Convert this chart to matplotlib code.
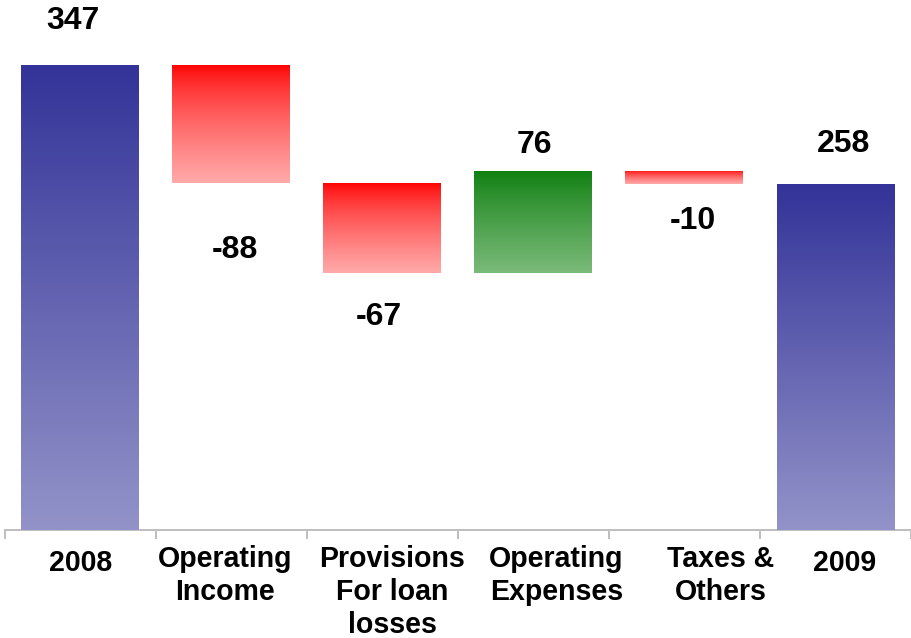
import numpy as np
import matplotlib
matplotlib.use("Agg")
import matplotlib.pyplot as plt
from matplotlib.colors import to_rgb

# ---- data -------------------------------------------------------------
categories = ["2008", "Operating\nIncome", "Provisions\nFor loan\nlosses",
              "Operating\nExpenses", "Taxes &\nOthers", "2009"]
values = [347, -88, -67, 76, -10, 258]
kinds = ["total", "delta", "delta", "delta", "delta", "total"]

# ---- styling ----------------------------------------------------------
grad_total = ("#333399", "#9393c9", 1.0)
grad_down = ("#ff0000", "#ffaaaa", 0.7)
grad_up = ("#0f7f0f", "#7aba7a", 0.85)
axis_grey = "#bfbfbf"
font = "Liberation Sans"

# label nudges in points (figure is rendered at 72 dpi, so points == px)
value_dx = [-7.5, 4, -3, 1.5, 8.5, 8.5]
value_dy = [36, -75, -52, 18, -45, 32]
cat_dx = [1, -6, 10, 23, 36, 9]
cat_dy = [-19, -15, -15, -15, -15, -19]

W, H, DPI = 911, 638, 72
fig = plt.figure(figsize=(W / DPI, H / DPI), dpi=DPI)
ax = fig.add_axes([4.5 / W, 108 / H, 906.5 / W, 530 / H])

x = np.arange(len(categories))
bottoms, heights = [], []
running = 0
for v, k in zip(values, kinds):
    if k == "total":
        bottoms.append(0)
        heights.append(v)
        running = v
    else:
        bottoms.append(running + min(v, 0))
        heights.append(abs(v))
        running += v

bars = ax.bar(x, heights, bottom=bottoms, width=0.78, color="none",
              edgecolor="none", zorder=3)


def gradient(c_top, c_bot, gamma, n=256):
    t = np.linspace(0, 1, n)[:, None, None] ** gamma
    a = np.array(to_rgb(c_top))[None, None, :]
    b = np.array(to_rgb(c_bot))[None, None, :]
    return a + (b - a) * t


for bar, v, k in zip(bars, values, kinds):
    if k == "total":
        cols = grad_total
    elif v < 0:
        cols = grad_down
    else:
        cols = grad_up
    x0, y0 = bar.get_x(), bar.get_y()
    x1, y1 = x0 + bar.get_width(), y0 + bar.get_height()
    im = ax.imshow(gradient(*cols), extent=[x0, x1, y0, y1], origin="upper",
                   aspect="auto", interpolation="bilinear", zorder=3)
    im.set_clip_path(bar)

ax.set_xlim(-0.5, len(categories) - 0.5)
ax.set_ylim(0, 395.5)

# value labels
for i, (bar, v, k) in enumerate(zip(bars, values, kinds)):
    top = bar.get_y() + bar.get_height()
    anchor_y = top if (k == "total" or v > 0) else bar.get_y()
    ax.annotate(f"{v}", xy=(bar.get_x() + bar.get_width() / 2, anchor_y),
                xytext=(value_dx[i], value_dy[i]), textcoords="offset points",
                ha="center", va="baseline", fontsize=32, fontweight="bold",
                family=font, color="black", annotation_clip=False)

# category labels
ax.set_xticks([])
for i, lab in enumerate(categories):
    ax.annotate(lab, xy=(x[i], 0), xytext=(cat_dx[i], cat_dy[i]),
                textcoords="offset points", ha="center", va="top",
                multialignment="center", fontsize=28.5, fontweight="bold",
                family=font, linespacing=1.22, annotation_clip=False)

# boundary tick marks along the axis
ax.set_xticks(np.arange(-0.5, len(categories), 1.0), minor=True)
ax.tick_params(axis="x", which="minor", length=9, width=2, color=axis_grey)
ax.set_yticks([])
for s in ("left", "right", "top"):
    ax.spines[s].set_visible(False)
ax.spines["bottom"].set_color(axis_grey)
ax.spines["bottom"].set_linewidth(2)

fig.savefig("out.png", dpi=DPI, facecolor="white")
